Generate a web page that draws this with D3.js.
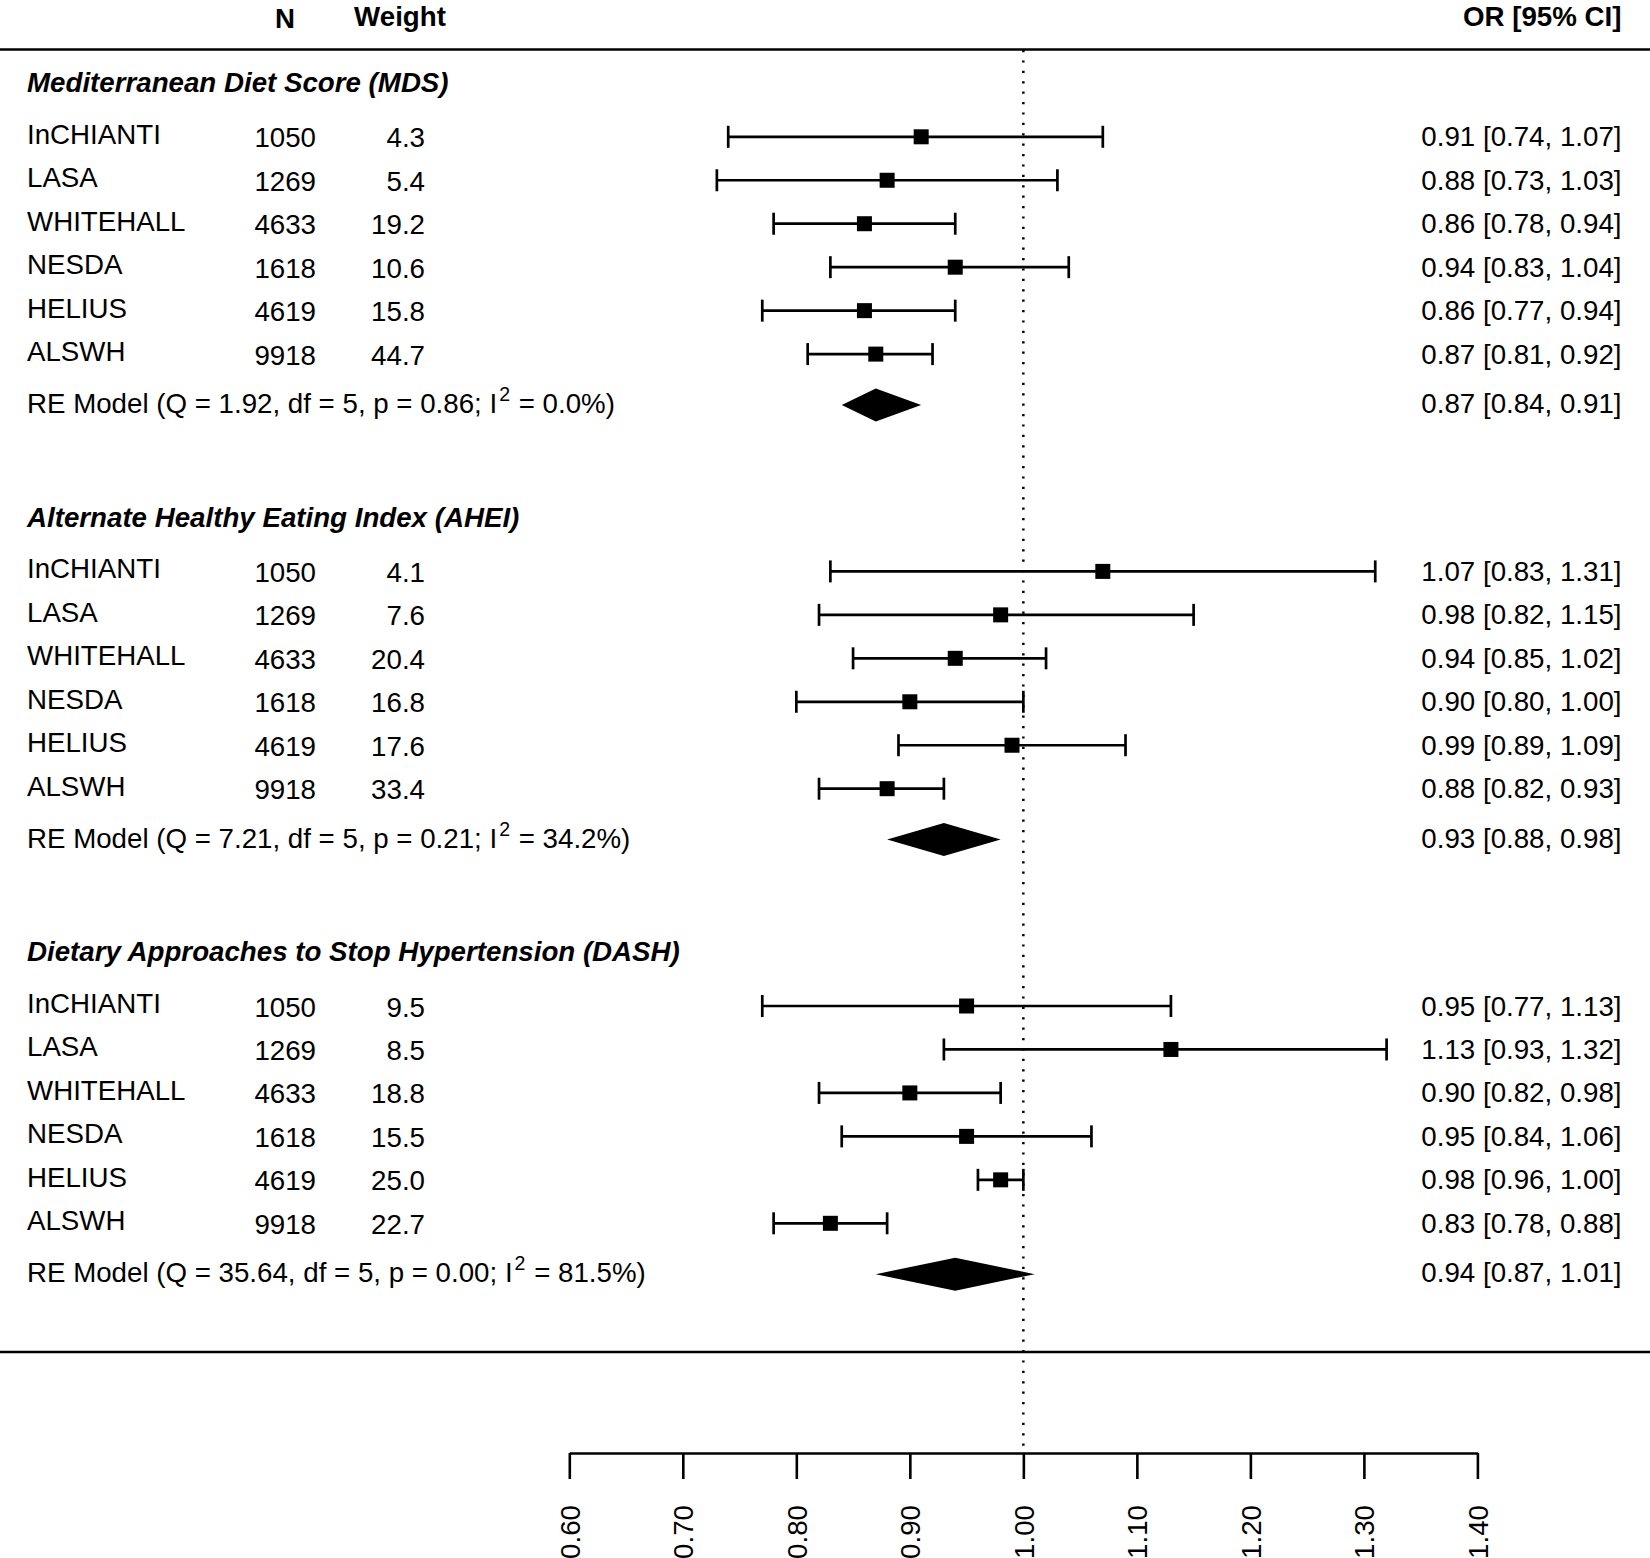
<!DOCTYPE html>
<html><head><meta charset="utf-8">
<script src="https://cdn.jsdelivr.net/npm/d3@7/dist/d3.min.js"></script>
<style>
html,body{margin:0;padding:0;background:#fff;}
svg text{font-family:"Liberation Sans",Arial,Helvetica,sans-serif;fill:#000;}
</style></head>
<body>
<svg id="chart" width="1650" height="1558"></svg>
<script>
// ---------- data ----------
const studies = ["InCHIANTI","LASA","WHITEHALL","NESDA","HELIUS","ALSWH"];
const nValues = [1050,1269,4633,1618,4619,9918];
const groupTitles = ["Mediterranean Diet Score (MDS)","Alternate Healthy Eating Index (AHEI)","Dietary Approaches to Stop Hypertension (DASH)"];

const mdsWeight = [4.3,5.4,19.2,10.6,15.8,44.7];
const mdsOR = [0.91,0.88,0.86,0.94,0.86,0.87];
const mdsLo = [0.74,0.73,0.78,0.83,0.77,0.81];
const mdsHi = [1.07,1.03,0.94,1.04,0.94,0.92];

const aheiWeight = [4.1,7.6,20.4,16.8,17.6,33.4];
const aheiOR = [1.07,0.98,0.94,0.90,0.99,0.88];
const aheiLo = [0.83,0.82,0.85,0.80,0.89,0.82];
const aheiHi = [1.31,1.15,1.02,1.00,1.09,0.93];

const dashWeight = [9.5,8.5,18.8,15.5,25.0,22.7];
const dashOR = [0.95,1.13,0.90,0.95,0.98,0.83];
const dashLo = [0.77,0.93,0.82,0.84,0.96,0.78];
const dashHi = [1.13,1.32,0.98,1.06,1.00,0.88];

// RE model summaries: [MDS, AHEI, DASH]
const reOR = [0.87,0.93,0.94];
const reLo = [0.84,0.88,0.87];
const reHi = [0.91,0.98,1.01];
const reQ = ["1.92","7.21","35.64"];
const reDf = [5,5,5];
const reP = ["0.86","0.21","0.00"];
const reI2 = ["0.0","34.2","81.5"];

const tickValues = [0.6,0.7,0.8,0.9,1.0,1.1,1.2,1.3,1.4];

// ---------- layout ----------
const W = 1650;
const svg = d3.select("#chart");
const x = d3.scaleLinear().domain([0.6,1.4]).range([569.3,1477.4]);
const y = d3.scaleLinear().domain([0,1]).range([136.8,136.8+43.46]);
const FS = 27.7;
const SW = 2.7;
const f2 = d3.format(".2f"), f1 = d3.format(".1f");

const groups = [
  {title:groupTitles[0], w:mdsWeight, or:mdsOR, lo:mdsLo, hi:mdsHi},
  {title:groupTitles[1], w:aheiWeight, or:aheiOR, lo:aheiLo, hi:aheiHi},
  {title:groupTitles[2], w:dashWeight, or:dashOR, lo:dashLo, hi:dashHi}
];

const colLabelX = 27, colNX = 316, colWX = 425, colORX = 1621.5;

// header
svg.append("text").attr("x",285).attr("y",28).attr("text-anchor","middle")
  .attr("font-weight","bold").attr("font-size",FS).text("N");
svg.append("text").attr("x",400).attr("y",25.5).attr("text-anchor","middle")
  .attr("font-weight","bold").attr("font-size",FS).text("Weight");
svg.append("text").attr("x",colORX).attr("y",25.5).attr("text-anchor","end")
  .attr("font-weight","bold").attr("font-size",FS).text("OR [95% CI]");

// horizontal rules
svg.append("line").attr("x1",0).attr("x2",W).attr("y1",49.5).attr("y2",49.5)
  .attr("stroke","#000").attr("stroke-width",2.6);
svg.append("line").attr("x1",0).attr("x2",W).attr("y1",1352).attr("y2",1352)
  .attr("stroke","#000").attr("stroke-width",2.6);

// reference line
svg.append("line").attr("x1",x(1)).attr("x2",x(1)).attr("y1",50).attr("y2",1453)
  .attr("stroke","#000").attr("stroke-width",2.5).attr("stroke-dasharray","2.2,8.2");

groups.forEach((g,gi)=>{
  const base = gi*10;
  svg.append("text").attr("x",colLabelX).attr("y",y(base-1.27)+10.5)
    .attr("font-weight","bold").attr("font-style","italic").attr("font-size",FS).text(g.title);
  studies.forEach((s,i)=>{
    const yy = y(base+i);
    svg.append("text").attr("x",colLabelX).attr("y",yy+7).attr("font-size",FS).text(s);
    svg.append("text").attr("x",colNX).attr("y",yy+10.5).attr("text-anchor","end").attr("font-size",FS).text(nValues[i]);
    svg.append("text").attr("x",colWX).attr("y",yy+10.5).attr("text-anchor","end").attr("font-size",FS).text(f1(g.w[i]));
    svg.append("text").attr("x",colORX).attr("y",yy+9.5).attr("text-anchor","end").attr("font-size",FS)
      .text(`${f2(g.or[i])} [${f2(g.lo[i])}, ${f2(g.hi[i])}]`);
    svg.append("line").attr("x1",x(g.lo[i])).attr("x2",x(g.hi[i])).attr("y1",yy).attr("y2",yy)
      .attr("stroke","#000").attr("stroke-width",SW);
    [g.lo[i],g.hi[i]].forEach(v=>{
      svg.append("line").attr("x1",x(v)).attr("x2",x(v)).attr("y1",yy-11).attr("y2",yy+11)
        .attr("stroke","#000").attr("stroke-width",SW);
    });
    svg.append("rect").attr("x",x(g.or[i])-7.5).attr("y",yy-7.5).attr("width",15).attr("height",15).attr("fill","#000");
  });
  // RE model
  const yr = y(base+6.17);
  const t = svg.append("text").attr("x",colLabelX).attr("y",yr+8).attr("font-size",FS);
  t.append("tspan").text(`RE Model (Q = ${reQ[gi]}, df = ${reDf[gi]}, p = ${reP[gi]}; I`);
  t.append("tspan").attr("font-size",19.5).attr("dy",-12).attr("dx",2).text("2");
  t.append("tspan").attr("dy",12).attr("dx",1).text(` = ${reI2[gi]}%)`);
  svg.append("text").attr("x",colORX).attr("y",yr+8).attr("text-anchor","end").attr("font-size",FS)
    .text(`${f2(reOR[gi])} [${f2(reLo[gi])}, ${f2(reHi[gi])}]`);
  const dh = 16.5;
  svg.append("path").attr("d",`M${x(reLo[gi])},${yr} L${x(reOR[gi])},${yr-dh} L${x(reHi[gi])},${yr} L${x(reOR[gi])},${yr+dh} Z`)
    .attr("fill","#000");
});

// axis
const axis = d3.axisBottom(x).tickValues(tickValues).tickSize(26).tickSizeOuter(0).tickFormat(f2);
const ag = svg.append("g").attr("transform","translate(0,1453)").call(axis);
ag.select(".domain").attr("stroke","#000").attr("stroke-width",2.6);
ag.selectAll(".tick line").attr("stroke","#000").attr("stroke-width",2.6);
ag.selectAll(".tick text").attr("font-size",FS).attr("fill","#000")
  .attr("font-family","Liberation Sans, Arial, sans-serif")
  .attr("transform","rotate(-90)").attr("text-anchor","end")
  .attr("x",-52).attr("y",0).attr("dy","0.35em");
</script>
</body></html>
